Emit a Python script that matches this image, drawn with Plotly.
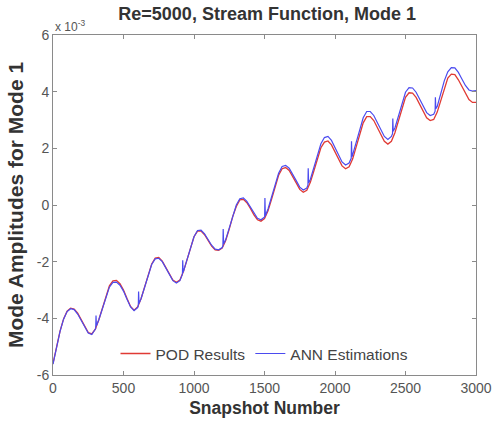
import plotly.graph_objects as go

# Snapshot grid (every 25 snapshots)
snapshots = list(range(0, 3001, 25))

# POD results (x 1e-3)
pod_results = [
    -5.60, -5.00, -4.45, -4.02, -3.75, -3.64, -3.67, -3.82, -4.05, -4.30,
    -4.50, -4.55, -4.38, -4.05, -3.65, -3.20, -2.85, -2.68, -2.66, -2.78,
    -3.00, -3.30, -3.58, -3.71, -3.60, -3.30, -2.90, -2.45, -2.08, -1.87,
    -1.85, -1.98, -2.20, -2.45, -2.65, -2.73, -2.65, -2.35, -1.95, -1.50,
    -1.12, -0.92, -0.92, -1.05, -1.25, -1.45, -1.58, -1.60, -1.52, -1.25,
    -0.85, -0.40, -0.05, 0.18, 0.20, 0.08, -0.12, -0.35, -0.52, -0.57,
    -0.48, -0.20, 0.20, 0.65, 1.05, 1.28, 1.32, 1.22, 1.02, 0.78,
    0.55, 0.45, 0.52, 0.80, 1.20, 1.65, 2.02, 2.22, 2.26, 2.12,
    1.88, 1.60, 1.38, 1.28, 1.35, 1.62, 2.05, 2.50, 2.90, 3.12,
    3.12, 2.98, 2.75, 2.48, 2.25, 2.15, 2.25, 2.55, 2.98, 3.45,
    3.80, 3.96, 3.95, 3.80, 3.55, 3.28, 3.08, 2.98, 3.02, 3.28,
    3.70, 4.15, 4.48, 4.62, 4.60, 4.42, 4.18, 3.92, 3.72, 3.62,
    3.62,
]

# ANN estimations on the same grid (x 1e-3)
ann_estimations = [
    -5.62, -5.02, -4.46, -4.03, -3.76, -3.66, -3.69, -3.85, -4.08, -4.33,
    -4.52, -4.57, -4.40, -4.05, -3.68, -3.24, -2.90, -2.73, -2.72, -2.83,
    -3.04, -3.33, -3.60, -3.73, -3.62, -3.30, -2.90, -2.47, -2.10, -1.90,
    -1.88, -2.00, -2.22, -2.47, -2.67, -2.75, -2.67, -2.35, -1.95, -1.50,
    -1.12, -0.90, -0.89, -1.02, -1.22, -1.42, -1.56, -1.58, -1.50, -1.22,
    -0.82, -0.37, 0.00, 0.22, 0.25, 0.13, -0.07, -0.30, -0.47, -0.52,
    -0.43, -0.14, 0.26, 0.72, 1.12, 1.36, 1.40, 1.30, 1.10, 0.86,
    0.63, 0.53, 0.60, 0.90, 1.32, 1.78, 2.16, 2.38, 2.42, 2.28,
    2.04, 1.76, 1.52, 1.41, 1.48, 1.77, 2.22, 2.68, 3.08, 3.30,
    3.30, 3.16, 2.93, 2.65, 2.42, 2.31, 2.42, 2.72, 3.16, 3.63,
    3.98, 4.14, 4.13, 3.98, 3.73, 3.46, 3.26, 3.16, 3.20, 3.48,
    3.92, 4.38, 4.70, 4.85, 4.84, 4.68, 4.45, 4.22, 4.06, 4.02,
    4.04,
]

# ANN re-start spikes (extra points read around each 300-snapshot boundary)
spike_snapshots = [303, 305, 308, 605, 607, 610, 918, 920, 923,
                   1205, 1207, 1210, 1501, 1503, 1506, 1808, 1810, 1813,
                   2115, 2117, 2120, 2408, 2410, 2413, 2710, 2712, 2715]
spike_values = [-4.36, -3.90, -4.26, -3.56, -3.05, -3.48, -2.44, -1.95, -2.38,
                -1.44, -0.85, -1.38, -0.42, 0.25, -0.38, 0.70, 1.30, 0.78,
                1.65, 2.25, 1.70, 2.52, 3.05, 2.60, 3.31, 3.80, 3.40]

x_ticks = [0, 500, 1000, 1500, 2000, 2500, 3000]
y_ticks = [-6, -4, -2, 0, 2, 4, 6]

ann_pairs = sorted(list(zip(snapshots, ann_estimations)) + list(zip(spike_snapshots, spike_values)))
ann_x = [p[0] for p in ann_pairs]
ann_y = [p[1] for p in ann_pairs]

FONT = "Liberation Sans, Arial, sans-serif"

fig = go.Figure()
fig.add_trace(go.Scatter(x=snapshots, y=pod_results, mode="lines", name="POD Results",
                         line=dict(color="#e03a34", width=1.3)))
fig.add_trace(go.Scatter(x=ann_x, y=ann_y, mode="lines", name="ANN Estimations",
                         line=dict(color="#4b4bef", width=1.2)))

axis_common = dict(showline=True, linecolor="#8a8a8a", linewidth=1, mirror="ticks",
                   ticks="inside", ticklen=4, tickcolor="#8a8a8a", showgrid=False,
                   zeroline=False, tickfont=dict(family=FONT, size=14, color="#555"))

fig.update_xaxes(range=[0, 3000], tickvals=x_ticks, ticktext=[str(v) for v in x_ticks],
                 title=dict(text="<b>Snapshot Number</b>", standoff=6,
                            font=dict(family=FONT, size=17.5, color="#333")),
                 **axis_common)
fig.update_yaxes(range=[-6, 6], tickvals=y_ticks, ticktext=[str(v) for v in y_ticks],
                 title=dict(text="<b>Mode Amplitudes for Mode 1</b>", standoff=7,
                            font=dict(family=FONT, size=21, color="#333")),
                 **axis_common)

fig.update_layout(
    width=504, height=426,
    margin=dict(l=53, r=21, t=35, b=51),
    paper_bgcolor="white", plot_bgcolor="white",
    title=dict(text="<b>Re=5000, Stream Function, Mode 1</b>", x=0.53, xanchor="center",
               y=1 - 14 / 426, yanchor="middle",
               font=dict(family=FONT, size=18, color="#333")),
    legend=dict(orientation="h", x=0.5, xanchor="center", y=0.062, yanchor="middle",
                bgcolor="rgba(0,0,0,0)", font=dict(family=FONT, size=15.5, color="#444"),
                itemwidth=30),
    annotations=[dict(text="x 10<sup>-3</sup>", xref="paper", yref="paper", x=0.0, y=1.0,
                      xanchor="left", yanchor="bottom", showarrow=False,
                      font=dict(family=FONT, size=12, color="#555"), yshift=-1)],
)

fig.write_html("out.html")
